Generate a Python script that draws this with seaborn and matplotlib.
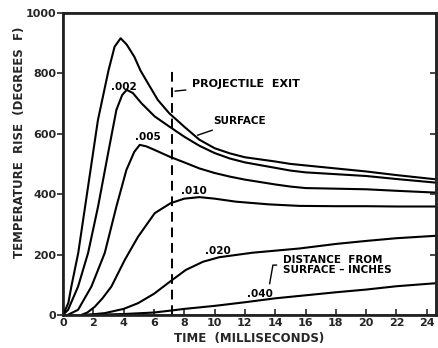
import matplotlib
matplotlib.use("Agg")
import matplotlib.pyplot as plt
import seaborn as sns

# datos (tiempo en ms, aumento de temperatura en grados F)
t_surface = [0, 0.35, 0.55, 1.0, 1.65, 2.3, 3.0, 3.4, 3.8, 4.2, 4.7, 5.1, 5.6, 6.25, 7.0,
             8.0, 9, 10, 11, 12, 14, 15, 16, 18, 20, 22, 24.6]
v_surface = [0, 40, 95, 205, 425, 645, 810, 888, 916, 895, 855, 810, 767, 712, 668,
             623, 580, 552, 535, 522, 508, 500, 495, 485, 475, 463, 449]

t_002 = [0, 0.33, 0.99, 1.65, 2.31, 2.97, 3.52, 3.9, 4.2, 4.6, 5.17, 6.05, 7.03,
         8.0, 9, 10, 11, 12, 14, 15, 16, 18, 20, 22, 24.6]
v_002 = [0, 17, 94, 205, 359, 535, 679, 728, 745, 735, 701, 657, 623,
         590, 560, 536, 518, 505, 487, 478, 472, 466, 460, 450, 438]

t_005 = [0.3, 0.99, 1.87, 2.75, 3.52, 4.18, 4.7, 5.06, 5.5, 6.05, 7.03,
         8, 9, 10, 11, 12, 14, 15, 16, 18, 20, 22, 24.6]
v_005 = [0, 17, 94, 205, 359, 480, 540, 563, 558, 546, 524,
         505, 485, 470, 458, 448, 432, 425, 420, 418, 416, 411, 405]

t_010 = [1.2, 1.6, 2.09, 2.6, 3.19, 4.07, 4.95, 6.05, 7.1, 8, 9, 10, 11.4, 13.6, 15.6,
         18, 20, 22, 24.6]
v_010 = [0, 8, 27, 55, 94, 182, 259, 337, 370, 385, 390, 385, 375, 366, 361,
         360, 360, 359, 359]

t_020 = [1.5, 2.75, 4, 4.95, 6, 7.05, 8.1, 9.23, 10.3, 12.5, 15.6, 18, 20, 22, 24.6]
v_020 = [0, 6, 20, 39, 70, 110, 149, 176, 191, 206, 220, 235, 245, 254, 262]

t_040 = [1.5, 4, 6, 7.2, 8, 10, 12, 14, 16, 18, 20, 22, 24.6]
v_040 = [0, 3, 8, 15, 20, 30, 42, 55, 65, 75, 84, 95, 105]

exit_time = 7.2
x_ticks = list(range(0, 25, 2))
y_ticks = [0, 200, 400, 600, 800, 1000]
right_ticks = [200, 400, 600, 800]

series = [(t_surface, v_surface), (t_002, v_002), (t_005, v_005),
          (t_010, v_010), (t_020, v_020), (t_040, v_040)]

sns.set_theme(style="ticks")
plt.rcParams['font.family'] = ['DejaVu Sans']
plt.rcParams['font.weight'] = 'bold'

fig = plt.figure(figsize=(4.38, 3.48), dpi=100)
ax = fig.add_axes([0.144, 0.095, 0.851, 0.868])

for t, v in series:
    sns.lineplot(x=t, y=v, color='black', linewidth=1.5, ax=ax, sort=False)

# linea de salida del proyectil
ax.axvline(exit_time, ymin=0, ymax=0.81, color='black', linestyle=(0, (5, 3)), linewidth=1.4)

ax.set_xlim(0, 24.6)
ax.set_ylim(0, 1000)
ax.set_xticks(x_ticks)
ax.set_yticks(y_ticks)
ax.tick_params(axis='x', direction='in', length=4, width=1.2, labelsize=8, pad=2)
ax.tick_params(axis='y', direction='out', length=4, width=1.2, labelsize=8, pad=1)
for s in ax.spines.values():
    s.set_linewidth(1.8)
    s.set_color('black')

# marcas internas del eje derecho
ax2 = ax.twinx()
ax2.set_ylim(0, 1000)
ax2.set_yticks(right_ticks)
ax2.tick_params(axis='y', direction='in', length=4, width=1.2, labelright=False)
ax2.spines['right'].set_linewidth(1.8)

ax.set_xlabel('TIME  (MILLISECONDS)', fontsize=8.5, fontweight='bold', labelpad=3)
ax.set_ylabel('TEMPERATURE  RISE  (DEGREES  F)', fontsize=8.5, fontweight='bold')
ax.yaxis.set_label_coords(-0.10, 0.57)

# etiquetas de curvas
kw = dict(fontsize=7.5, fontweight='bold', color='black')
ax.text(4.0, 755, '.002', ha='center', va='center', **kw)
ax.text(5.6, 590, '.005', ha='center', va='center', **kw)
ax.text(8.6, 410, '.010', ha='center', va='center', **kw)
ax.text(10.2, 212, '.020', ha='center', va='center', **kw)
ax.text(13.0, 70, '.040', ha='center', va='center', **kw)

ax.annotate('PROJECTILE  EXIT', xy=(exit_time, 740), xytext=(8.5, 765),
            va='center', ha='left', fontsize=8, fontweight='bold', color='black',
            arrowprops=dict(arrowstyle='-', color='black', lw=1.0))
ax.annotate('SURFACE', xy=(8.7, 592), xytext=(9.9, 642),
            va='center', ha='left', **kw,
            arrowprops=dict(arrowstyle='-', color='black', lw=1.0))
ax.annotate('DISTANCE  FROM\nSURFACE – INCHES', xy=(13.6, 94), xytext=(14.5, 165),
            va='center', ha='left', linespacing=1.0, **kw,
            arrowprops=dict(arrowstyle='-', color='black', lw=1.0,
                            connectionstyle='angle,angleA=0,angleB=80,rad=0'))

fig.savefig('out.png', dpi=100)
